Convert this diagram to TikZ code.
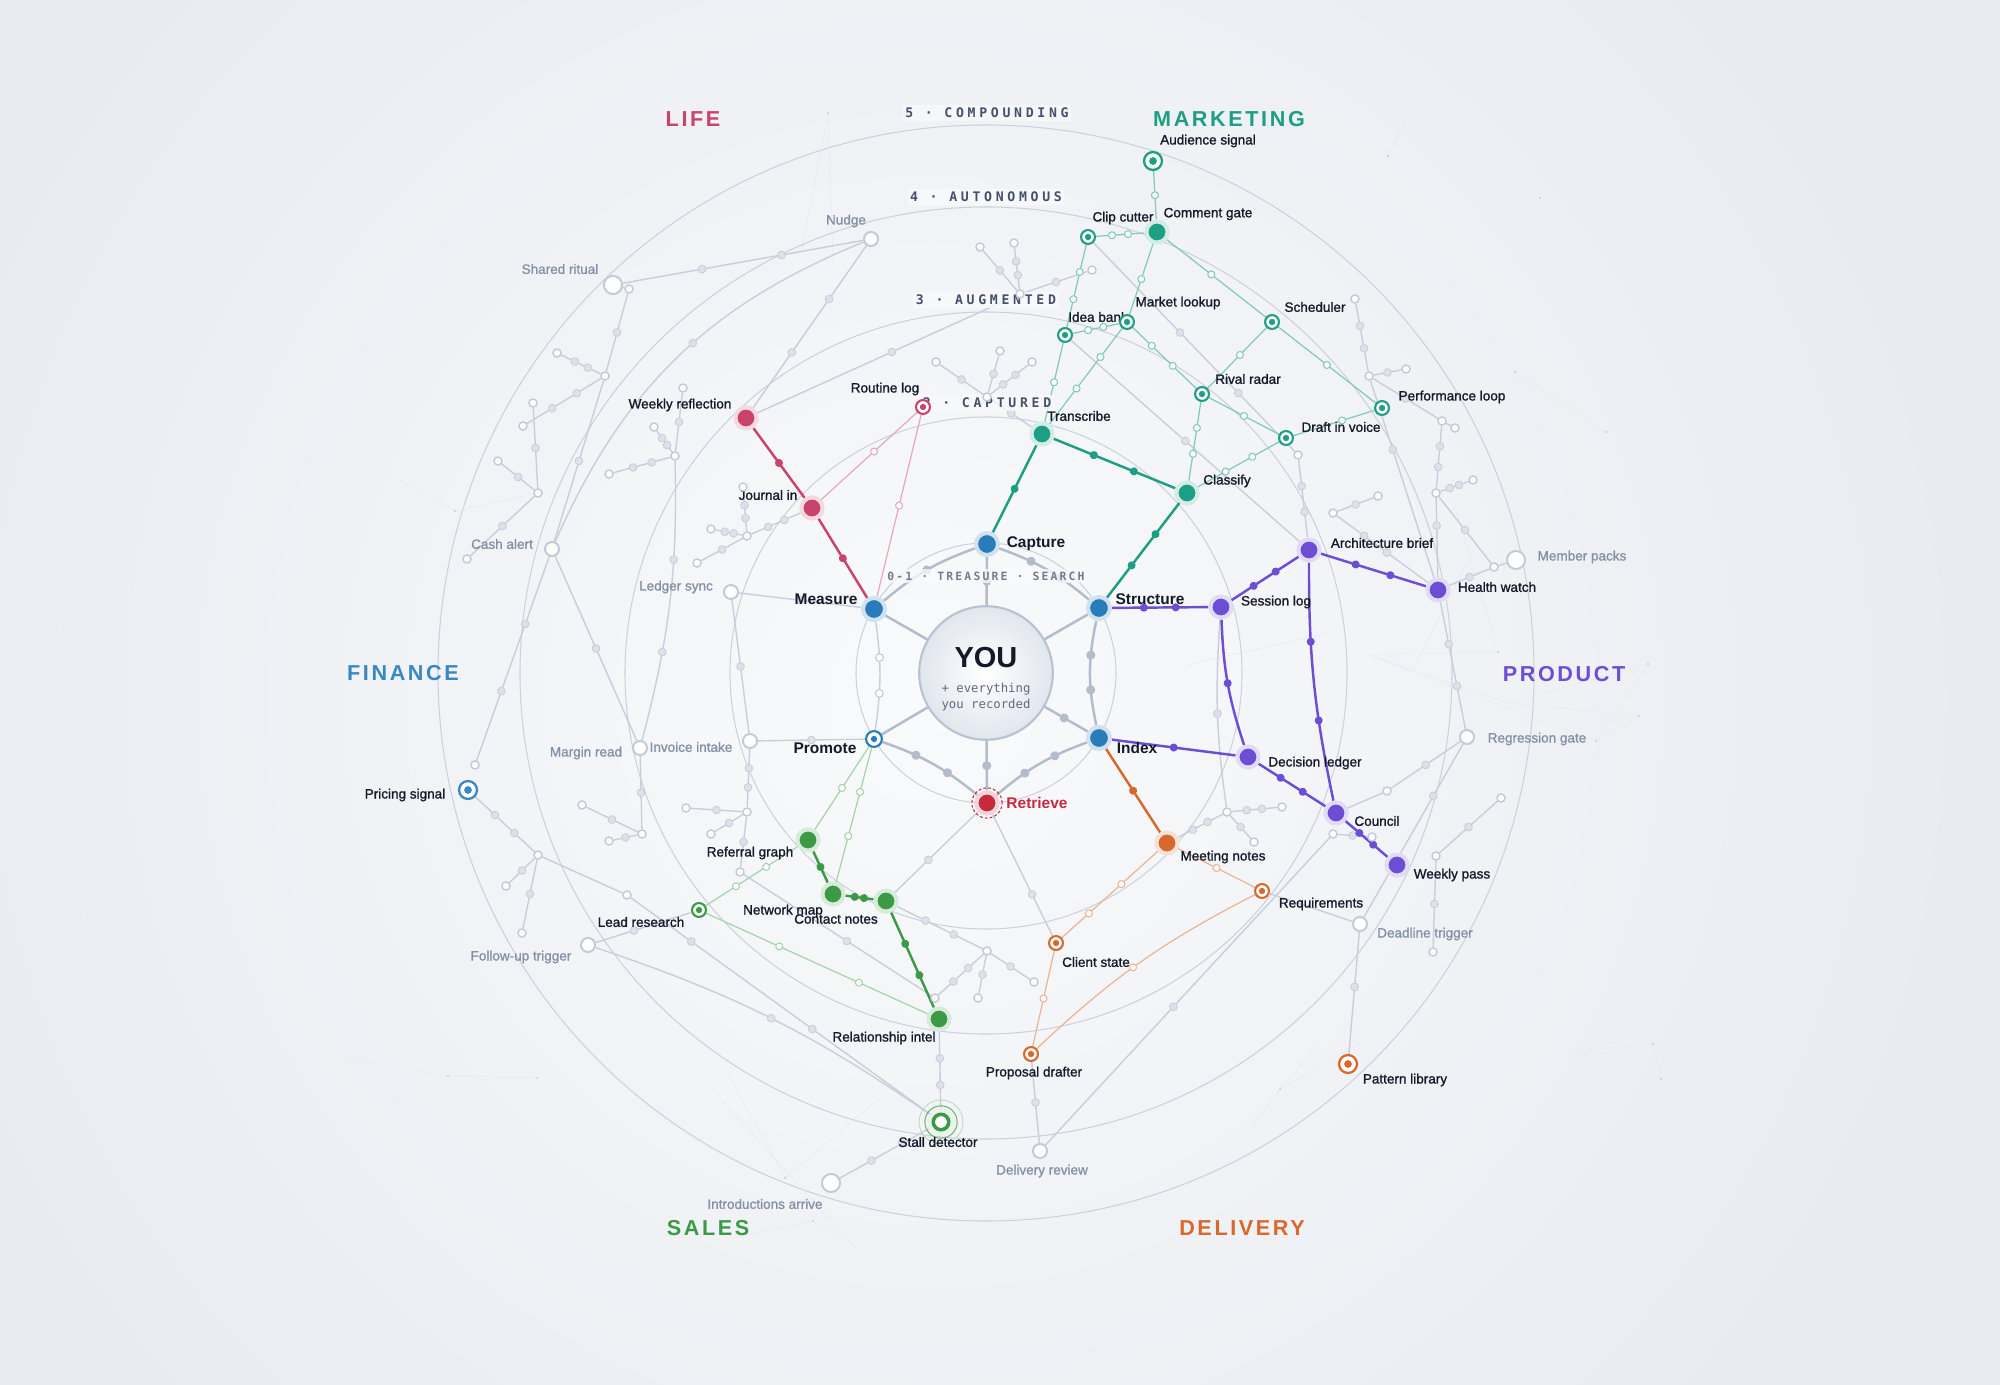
\documentclass[tikz,border=0pt]{standalone}
\usepackage{fontspec}
\setmainfont{Liberation Sans}
\newfontfamily\lblfont{Liberation Sans}[FakeBold=1.2]
\newfontfamily\youmono{DejaVu Sans Mono}
\newfontfamily\ringfont{DejaVu Sans Mono}[LetterSpace=28]
\newfontfamily\treasfont{DejaVu Sans Mono}[LetterSpace=19]
\newfontfamily\catfont{Liberation Sans}[LetterSpace=12]
\usetikzlibrary{decorations.markings}

\definecolor{bgc}{HTML}{E8EBF1}
\definecolor{bgin}{HTML}{F9FAFB}
\definecolor{ink}{HTML}{141A2A}
\definecolor{mute}{HTML}{8591A7}
\definecolor{slate}{HTML}{46506A}
\definecolor{ringc}{HTML}{CBD2DD}
\definecolor{gline}{HTML}{C8CFDA}
\definecolor{gdotc}{HTML}{DDE2EA}
\definecolor{gring}{HTML}{C3CAD6}
\definecolor{hubline}{HTML}{B3BCCA}
\definecolor{youedge}{HTML}{B9C2D0}
\definecolor{youbot}{HTML}{E1E6EE}
\definecolor{hubblue}{HTML}{2A7BBA}
\definecolor{life}{HTML}{C9436A}
\definecolor{mkt}{HTML}{1E9E84}
\definecolor{fin}{HTML}{3B87C3}
\definecolor{prod}{HTML}{6E4DD5}
\definecolor{sales}{HTML}{3C9A47}
\definecolor{deliv}{HTML}{D8692E}
\definecolor{retr}{HTML}{C62A3D}

\pgfdeclarelayer{back}
\pgfdeclarelayer{gedges}
\pgfdeclarelayer{cedges}
\pgfsetlayers{back,gedges,cedges,main}

\tikzset{
    hub/.style={circle, inner sep=0pt, minimum size=12.5pt, line width=2.3pt, fill=hubblue, draw=hubblue!22},
    filled/.style={circle, inner sep=0pt, minimum size=12pt, line width=2.3pt, fill=#1, draw=#1!20},
    target/.style={circle, inner sep=0pt, minimum size=7.9pt, line width=1.2pt, draw=#1, fill=white, path picture={\fill[#1] (path picture bounding box.center) circle (1.8pt);}},
    bigtarget/.style={circle, inner sep=0pt, minimum size=10.2pt, line width=1.3pt, draw=#1, fill=white, path picture={\fill[#1] (path picture bounding box.center) circle (2.2pt);}},
    gnode/.style={circle, inner sep=0pt, minimum size=8pt, line width=1.1pt, draw=gring, fill=white},
    bignode/.style={gnode, minimum size=10.3pt},
    gw/.style={circle, inner sep=0pt, minimum size=4.6pt, line width=0.8pt, draw=gring, fill=white},
    thk/.style={line width=1.4pt},
    thn/.style={line width=0.7pt},
    gedge/.style={draw=gline, line width=0.8pt},
    hedge/.style={draw=hubline, line width=1.4pt},
    faint/.style={draw=gline!45, line width=0.25pt},
    fd/.style={postaction={decorate, decoration={markings, mark=at position #1 with {\fill (0,0) circle (2.3pt);}}}},
    hd/.style={postaction={decorate, decoration={markings, mark=at position #1 with {\filldraw[fill=white, line width=0.6pt] (0,0) circle (2pt);}}}},
    gd/.style={postaction={decorate, decoration={markings, mark=at position #1 with {\filldraw[fill=gdotc, draw=gline, line width=0.5pt] (0,0) circle (2.2pt);}}}},
    hdt/.style={postaction={decorate, decoration={markings, mark=at position #1 with {\fill[hubline] (0,0) circle (2.6pt);}}}},
    ghd/.style={postaction={decorate, decoration={markings, mark=at position #1 with {\filldraw[fill=white, draw=gring, line width=0.6pt] (0,0) circle (2.2pt);}}}},
    lbl/.style={font=\lblfont\fontsize{7.7}{9}\selectfont, text=ink, inner sep=0pt},
    mlbl/.style={lbl, text=mute},
    hlbl/.style={font=\fontsize{8.8}{10}\selectfont\bfseries, text=ink, inner sep=0pt},
    cat/.style={font=\catfont\fontsize{12.3}{14}\selectfont\bfseries, inner sep=0pt},
    ringlbl/.style={font=\ringfont\fontsize{7.5}{9}\selectfont\bfseries, text=slate, inner sep=1.5pt, fill=bgin, fill opacity=0.75, text opacity=1}
}

\begin{document}
\begin{tikzpicture}[x=0.2mm, y=-0.2mm]
    \useasboundingbox (0,0) rectangle (2000,1385);
    \coordinate (ctr) at (986,673);

    % ring titles
    \node (r5) [ringlbl] at (987,113) {5 · COMPOUNDING};
    \node (r4) [ringlbl] at (986,197) {4 · AUTONOMOUS};
    \node (r3) [ringlbl] at (986,300) {3 · AUGMENTED};
    \node (r2) [ringlbl] at (987,403) {2 · CAPTURED};
    \node (r0) [ringlbl, font=\treasfont\fontsize{6.5}{8}\selectfont\bfseries, text=slate!75] at (986,576) {0-1 · TREASURE · SEARCH};

    % areas
    \node (clife) [cat, text=life] at (693,119) {LIFE};
    \node (cmkt) [cat, text=mkt] at (1229,119) {MARKETING};
    \node (cfin) [cat, text=fin] at (403,673) {FINANCE};
    \node (cprod) [cat, text=prod] at (1564,674) {PRODUCT};
    \node (csales) [cat, text=sales] at (708,1228) {SALES};
    \node (cdeliv) [cat, text=deliv] at (1242,1228) {DELIVERY};

    % labels
    \node (twrefl) [lbl] at (680,405) {Weekly reflection};
    \node (troutine) [lbl] at (885,389) {Routine log};
    \node (tjournal) [lbl] at (768,495) {Journal in};
    \node (tmeasure) [hlbl] at (826,599) {Measure};
    \node (tcapture) [hlbl] at (1036,544) {Capture};
    \node (tstructure) [hlbl] at (1150,599) {Structure};
    \node (tindex) [hlbl] at (1137,748) {Index};
    \node (tpromote) [hlbl] at (825,748) {Promote};
    \node (tretrieve) [hlbl, text=retr] at (1037,803) {Retrieve};
    \node (ttranscribe) [lbl] at (1079,416) {Transcribe};
    \node (tclassify) [lbl] at (1227,481) {Classify};
    \node (tclip) [lbl] at (1123,218) {Clip cutter};
    \node (tcomment) [lbl] at (1208,214) {Comment gate};
    \node (taudience) [lbl] at (1208,141) {Audience signal};
    \node (tmarket) [lbl] at (1178,303) {Market lookup};
    \node (tidea) [lbl] at (1098,317) {Idea bank};
    \node (tsched) [lbl] at (1315,307) {Scheduler};
    \node (trival) [lbl] at (1248,379) {Rival radar};
    \node (tdraft) [lbl] at (1341,427) {Draft in voice};
    \node (tperf) [lbl] at (1452,397) {Performance loop};
    \node (tsession) [lbl] at (1276,602) {Session log};
    \node (tarch) [lbl] at (1382,543) {Architecture brief};
    \node (thealth) [lbl] at (1497,587) {Health watch};
    \node (tdecision) [lbl] at (1315,763) {Decision ledger};
    \node (tcouncil) [lbl] at (1377,821) {Council};
    \node (twpass) [lbl] at (1452,875) {Weekly pass};
    \node (tmeeting) [lbl] at (1223,857) {Meeting notes};
    \node (trequire) [lbl] at (1321,904) {Requirements};
    \node (tclient) [lbl] at (1096,962) {Client state};
    \node (tproposal) [lbl] at (1034,1073) {Proposal drafter};
    \node (tpattern) [lbl] at (1405,1080) {Pattern library};
    \node (treferral) [lbl] at (750,853) {Referral graph};
    \node (tnetmap) [lbl] at (783,911) {Network map};
    \node (tcontact) [lbl] at (836,919) {Contact notes};
    \node (trelint) [lbl] at (884,1038) {Relationship intel};
    \node (tlead) [lbl] at (641,922) {Lead research};
    \node (tstall) [lbl] at (938,1142) {Stall detector};
    \node (tpricing) [lbl] at (405,795) {Pricing signal};
    \node (tnudge) [mlbl] at (846,221) {Nudge};
    \node (tshared) [mlbl] at (560,269) {Shared ritual};
    \node (tcash) [mlbl] at (502,544) {Cash alert};
    \node (tledger) [mlbl] at (676,587) {Ledger sync};
    \node (tmargin) [mlbl] at (586,753) {Margin read};
    \node (tinvoice) [mlbl] at (691,747) {Invoice intake};
    \node (tfollowup) [mlbl] at (521,957) {Follow-up trigger};
    \node (tintro) [mlbl] at (765,1204) {Introductions arrive};
    \node (treview) [mlbl] at (1042,1171) {Delivery review};
    \node (tdeadline) [mlbl] at (1425,934) {Deadline trigger};
    \node (tregress) [mlbl] at (1537,739) {Regression gate};
    \node (tmember) [mlbl] at (1582,557) {Member packs};

    % centre
    \node (you) [circle, minimum size=76pt, inner sep=0pt, draw=youedge, line width=1.2pt, inner color=white, outer color=youbot] at (ctr) {};
    \node (youtxt) [font=\fontsize{16.5}{18}\selectfont\bfseries, text=ink] at (986,658) {YOU};
    \node (yousub) [font=\youmono\fontsize{7}{9.1}\selectfont, text=slate!85, align=center] at (986,697) {+ everything\\you recorded};

    % hub
    \node (capture) [hub] at (987,544) {};
    \node (structure) [hub] at (1099,608) {};
    \node (index) [hub] at (1099,738) {};
    \node (measure) [hub] at (874,609) {};
    \node (promote) [target=hubblue, minimum size=9pt] at (874,739) {};
    \node (retrieve) [filled=retr] at (987,803) {};

    % life
    \node (wrefl) [filled=life] at (746,418) {};
    \node (journal) [filled=life] at (812,508) {};
    \node (routine) [target=life] at (923,407) {};

    % marketing
    \node (audience) [bigtarget=mkt] at (1153,161) {};
    \node (comment) [filled=mkt] at (1157,232) {};
    \node (clip) [target=mkt] at (1088,237) {};
    \node (idea) [target=mkt] at (1065,335) {};
    \node (market) [target=mkt] at (1127,322) {};
    \node (sched) [target=mkt] at (1272,322) {};
    \node (rival) [target=mkt] at (1202,394) {};
    \node (draft) [target=mkt] at (1286,438) {};
    \node (perf) [target=mkt] at (1382,408) {};
    \node (transcribe) [filled=mkt] at (1042,434) {};
    \node (classify) [filled=mkt] at (1187,493) {};

    % product
    \node (session) [filled=prod] at (1221,607) {};
    \node (arch) [filled=prod] at (1309,550) {};
    \node (health) [filled=prod] at (1438,590) {};
    \node (decision) [filled=prod] at (1248,757) {};
    \node (council) [filled=prod] at (1336,813) {};
    \node (wpass) [filled=prod] at (1397,865) {};

    % delivery
    \node (meeting) [filled=deliv] at (1167,843) {};
    \node (require) [target=deliv] at (1262,891) {};
    \node (client) [target=deliv] at (1056,943) {};
    \node (proposal) [target=deliv] at (1031,1054) {};
    \node (pattern) [bigtarget=deliv] at (1348,1064) {};

    % sales
    \node (referral) [filled=sales] at (808,840) {};
    \node (netmap) [filled=sales] at (833,894) {};
    \node (contact) [filled=sales] at (886,901) {};
    \node (relint) [filled=sales] at (939,1019) {};
    \node (lead) [target=sales] at (699,910) {};
    \node (stall) [circle, inner sep=0pt, minimum size=8.8pt, line width=2pt, draw=sales, fill=white] at (941,1122) {};

    % finance
    \node (pricing) [bigtarget=fin] at (468,790) {};

    % dormant
    \node (nudge) [gnode] at (871,239) {};
    \node (shared) [bignode] at (613,285) {};
    \node (cash) [gnode] at (552,549) {};
    \node (ledger) [gnode] at (731,592) {};
    \node (margin) [gnode] at (640,748) {};
    \node (invoice) [gnode] at (750,741) {};
    \node (followup) [gnode] at (588,945) {};
    \node (intro) [bignode] at (831,1183) {};
    \node (review) [gnode] at (1040,1151) {};
    \node (deadline) [gnode] at (1360,924) {};
    \node (regress) [gnode] at (1467,737) {};
    \node (member) [bignode] at (1516,560) {};

    % small grey
    \node (w1) [gw] at (629,289) {};
    \node (w2) [gw] at (605,376) {};
    \node (w3) [gw] at (557,353) {};
    \node (w4) [gw] at (523,426) {};
    \node (w5) [gw] at (533,403) {};
    \node (w6) [gw] at (498,461) {};
    \node (w7) [gw] at (538,493) {};
    \node (w8) [gw] at (467,559) {};
    \node (w9) [gw] at (683,388) {};
    \node (w10) [gw] at (675,456) {};
    \node (w11) [gw] at (654,427) {};
    \node (w12) [gw] at (609,474) {};
    \node (w13) [gw] at (747,536) {};
    \node (w14) [gw] at (743,487) {};
    \node (w15) [gw] at (711,529) {};
    \node (w16) [gw] at (697,563) {};
    \node (w17) [gw] at (980,247) {};
    \node (w18) [gw] at (1014,243) {};
    \node (w19) [gw] at (1020,294) {};
    \node (w20) [gw] at (1092,270) {};
    \node (w21) [gw] at (936,362) {};
    \node (w22) [gw] at (1000,351) {};
    \node (w23) [gw] at (987,397) {};
    \node (w24) [gw] at (1032,362) {};
    \node (w26) [gw] at (1355,299) {};
    \node (w27) [gw] at (1369,376) {};
    \node (w28) [gw] at (1406,369) {};
    \node (w29) [gw] at (1442,421) {};
    \node (w30) [gw] at (1455,428) {};
    \node (w33) [gw] at (1436,493) {};
    \node (w34) [gw] at (1494,567) {};
    \node (w35) [gw] at (1473,480) {};
    \node (w36) [gw] at (1333,513) {};
    \node (w37) [gw] at (1378,496) {};
    \node (w39) [gw] at (1298,455) {};
    \node (w40) [gw] at (1387,791) {};
    \node (w42) [gw] at (1436,856) {};
    \node (w43) [gw] at (1501,798) {};
    \node (w44) [gw] at (1433,952) {};
    \node (w46) [gw] at (1333,834) {};
    \node (w47) [gw] at (1227,812) {};
    \node (w48) [gw] at (1282,807) {};
    \node (w49) [gw] at (1254,842) {};
    \node (w51) [gw] at (1372,837) {};
    \node (w53) [gw] at (538,855) {};
    \node (w54) [gw] at (475,765) {};
    \node (w55) [gw] at (506,886) {};
    \node (w56) [gw] at (522,933) {};
    \node (w57) [gw] at (627,895) {};
    \node (w58) [gw] at (582,805) {};
    \node (w59) [gw] at (642,834) {};
    \node (w60) [gw] at (609,841) {};
    \node (w61) [gw] at (935,998) {};
    \node (w62) [gw] at (740,872) {};
    \node (w63) [gw] at (987,951) {};
    \node (w64) [gw] at (978,998) {};
    \node (w65) [gw] at (1034,982) {};
    \node (w66) [gw] at (747,812) {};
    \node (w67) [gw] at (686,808) {};
    \node (w68) [gw] at (711,834) {};

    \begin{pgfonlayer}{back}
        \fill[bgc] (0,0) rectangle (2000,1385);
        \shade[inner color=bgin, outer color=bgc] (930,700) circle [radius=210mm];
        \draw[ringc, line width=0.6pt] (ctr) circle [radius=26mm];
        \draw[ringc, line width=0.6pt] (ctr) circle [radius=51.2mm];
        \draw[ringc, line width=0.6pt] (ctr) circle [radius=72.2mm];
        \draw[ringc, line width=0.6pt] (ctr) circle [radius=93.2mm];
        \draw[ringc, line width=0.6pt] (ctr) circle [radius=109.6mm];
        % faint constellations
        \draw[faint] (803,245) -- (828,113) -- (833,265);
        \draw[faint] (1418,95) -- (1388,156);
        \draw[faint] (1515,372) -- (1606,432);
        \draw[faint] (1369,655) -- (1508,703) -- (1648,664) -- (1596,741) -- cycle;
        \draw[faint] (1508,703) -- (1639,716) -- (1596,741);
        \draw[faint] (1456,510) -- (1498,652) -- (1369,655);
        \draw[faint] (1473,550) -- (1413,669);
        \draw[faint] (340,1058) -- (448,1076) -- (537,1078);
        \draw[faint] (712,1089) -- (857,1250);
        \draw[faint] (727,1073) -- (785,1178) -- (886,1093);
        \draw[faint] (733,1238) -- (813,1221) -- (857,1248);
        \draw[faint] (1318,1045) -- (1280,1089) -- (1252,1128);
        \draw[faint] (1280,1089) -- (1365,1040);
        \draw[faint] (1573,1051) -- (1653,1044) -- (1661,1079) -- cycle;
        \draw[faint] (400,480) -- (455,511) -- (538,493);
        \draw[faint] (1187,665) -- (1333,632);
        \fill[gline] (828,113) circle (0.7pt) (803,245) circle (0.7pt) (1388,156) circle (0.7pt)
            (1540,198) circle (0.7pt) (1515,372) circle (0.7pt) (1606,432) circle (0.7pt)
            (1648,664) circle (0.7pt) (1639,716) circle (0.7pt) (1596,741) circle (0.7pt)
            (1498,652) circle (0.7pt) (448,1076) circle (0.7pt) (537,1078) circle (0.7pt)
            (785,1178) circle (0.7pt) (813,1221) circle (0.7pt) (1280,1089) circle (0.7pt)
            (1653,1044) circle (0.7pt) (1661,1079) circle (0.7pt) (455,511) circle (0.7pt);
    \end{pgfonlayer}

    \begin{pgfonlayer}{gedges}
        % hub ring
        \draw[hedge] (you) -- (measure);
        \draw[hedge] (you) -- (structure);
        \draw[hedge] (you) -- (promote);
        \draw[hedge, hdt=.5] (you) -- (capture);
        \draw[hedge, hdt=.5] (you) -- (retrieve);
        \draw[hedge, hdt=.45] (you) -- (index);
        \draw[hedge, hdt=.5] (measure) to[bend left=10] (capture);
        \draw[hedge, hdt=.33, hdt=.66] (capture) to[bend left=10] (structure);
        \draw[hedge, hdt=.33, hdt=.66] (structure) to[bend right=12] (index);
        \draw[hedge, hdt=.33, hdt=.66] (promote) to[bend left=10] (retrieve);
        \draw[hedge, hdt=.33, hdt=.66] (index) to[bend right=10] (retrieve);
        \draw[gedge, ghd=.33, ghd=.66] (measure) to[bend left=8] (promote);
        % dormant web
        \draw[gedge] (shared) -- (w1);
        \draw[gedge, gd=.5] (w1) -- (w2);
        \draw[gedge, gd=.33, gd=.66] (w2) -- (w3);
        \draw[gedge, gd=.33, gd=.66] (w2) -- (w4);
        \draw[gedge, gd=.5] (w2) -- (cash);
        \draw[gedge, gd=.5] (w5) -- (w7);
        \draw[gedge, gd=.5] (w6) -- (w7);
        \draw[gedge, gd=.5] (w7) -- (w8);
        \draw[gedge, gd=.33, gd=.66] (shared) -- (nudge);
        \draw[gedge, gd=.33, gd=.66] (nudge) -- (wrefl);
        \draw[gedge, gd=.45] (nudge) to[bend right=22] (cash);
        \draw[gedge, gd=.5] (w9) -- (w10);
        \draw[gedge, gd=.33, gd=.66] (w10) -- (w11);
        \draw[gedge, gd=.33, gd=.66] (w10) -- (w12);
        \draw[gedge, gd=.35, gd=.68] (w10) to[bend left=8] (margin);
        \draw[gedge, gd=.33, gd=.66] (journal) -- (w13);
        \draw[gedge, gd=.33, gd=.66] (w13) -- (w14);
        \draw[gedge, gd=.33, gd=.66] (w13) -- (w15);
        \draw[gedge, gd=.5] (w13) -- (w16);
        \draw[gedge, gd=.5] (w17) -- (w19);
        \draw[gedge, gd=.33, gd=.66] (w18) -- (w19);
        \draw[gedge, gd=.5] (w19) -- (w20);
        \draw[gedge, gd=.52] (wrefl) -- (w19);
        \draw[gedge, gd=.5] (w21) -- (w23);
        \draw[gedge, gd=.5] (w22) -- (w23);
        \draw[gedge, gd=.33, gd=.66] (w23) -- (w24);
        \draw[gedge, gd=.5] (w23) -- (transcribe);
        \draw[gedge, gd=.43, gd=.72] (clip) -- (w39);
        \draw[gedge, gd=.5] (idea) -- (arch);
        \draw[gedge, gd=.33, gd=.66] (w26) -- (w27);
        \draw[gedge, gd=.5] (w27) -- (w28);
        \draw[gedge, gd=.5] (w27) -- (w29);
        \draw[gedge] (w29) -- (w30);
        \draw[gedge, gd=.33, gd=.66] (w29) -- (w33);
        \draw[gedge, gd=.35] (w33) -- (health);
        \draw[gedge, gd=.5] (w33) -- (w34);
        \draw[gedge, gd=.33, gd=.66] (w33) -- (w35);
        \draw[gedge] (member) -- (w34);
        \draw[gedge, gd=.5] (w34) -- (health);
        \draw[gedge, gd=.35] (w27) -- (health);
        \draw[gedge, gd=.33, gd=.66] (arch) -- (w39);
        \draw[gedge, gd=.5] (w36) -- (w37);
        \draw[gedge, gd=.3, gd=.55] (w36) -- (health);
        \draw[gedge, gd=.33, gd=.66] (health) -- (regress);
        \draw[gedge, gd=.5] (regress) -- (w40);
        \draw[gedge] (w40) -- (council);
        \draw[gedge, gd=.3, gd=.72] (regress) -- (deadline);
        \draw[gedge, gd=.5] (w43) -- (w42);
        \draw[gedge, gd=.5] (w42) -- (w44);
        \draw[gedge, gd=.45] (deadline) -- (pattern);
        \draw[gedge] (require) -- (deadline);
        \draw[gedge, gd=.5] (session) to[bend right=6] (w47);
        \draw[gedge, gd=.33, gd=.66] (meeting) -- (w47);
        \draw[gedge, gd=.33, gd=.66] (w47) -- (w48);
        \draw[gedge, gd=.5] (w47) -- (w49);
        \draw[gedge, gd=.45] (review) -- (w46);
        \draw[gedge, gd=.5] (w46) -- (w51);
        \draw[gedge, gd=.5] (proposal) -- (review);
        \draw[gedge, gd=.33, gd=.66] (cash) -- (w54);
        \draw[gedge, gd=.5] (cash) -- (margin);
        \draw[gedge, gd=.33, gd=.66] (pricing) -- (w53);
        \draw[gedge, gd=.5] (w53) -- (w55);
        \draw[gedge, gd=.5] (w53) -- (w56);
        \draw[gedge] (w53) -- (w57);
        \draw[gedge, gd=.2, gd=.6] (w57) -- (stall);
        \draw[gedge, gd=.4] (followup) -- (lead);
        \draw[gedge, gd=.5] (followup) to[bend left=8] (stall);
        \draw[gedge, gd=.5] (w58) -- (w59);
        \draw[gedge, gd=.5] (w59) -- (w60);
        \draw[gedge, gd=.5] (margin) -- (w59);
        \draw[gedge, gd=.5] (ledger) -- (invoice);
        \draw[gedge, gd=.33, gd=.66] (invoice) -- (w66);
        \draw[gedge, gd=.5] (w66) -- (w62);
        \draw[gedge, gd=.5] (w66) -- (w67);
        \draw[gedge, gd=.5] (w66) -- (w68);
        \draw[gedge, gd=.55] (w62) -- (w61);
        \draw[gedge, gd=.33, gd=.66] (w61) -- (w63);
        \draw[gedge, gd=.33, gd=.66] (contact) -- (w63);
        \draw[gedge, gd=.5] (w63) -- (w64);
        \draw[gedge, gd=.5] (w63) -- (w65);
        \draw[gedge, gd=.33, gd=.66] (relint) -- (stall);
        \draw[gedge, gd=.33, gd=.66] (stall) -- (intro);
        \draw[gedge, gd=.5] (measure) -- (ledger);
        \draw[gedge, gd=.5] (promote) -- (invoice);
        \draw[gedge, gd=.6] (retrieve) -- (contact);
        \draw[gedge, gd=.66] (retrieve) -- (client);
    \end{pgfonlayer}

    \begin{pgfonlayer}{cedges}
        % life
        \draw[thn, life!45, hd=.45] (routine) -- (journal);
        \draw[thn, life!45, hd=.5] (routine) -- (measure);
        \draw[thk, life, fd=.5] (wrefl) -- (journal);
        \draw[thk, life, fd=.5] (journal) -- (measure);
        % marketing
        \draw[thn, mkt!55, hd=.5] (audience) -- (comment);
        \draw[thn, mkt!55, hd=.33, hd=.66] (clip) -- (comment);
        \draw[thn, mkt!55, hd=.33, hd=.66] (clip) -- (idea);
        \draw[thn, mkt!55, hd=.5] (idea) -- (transcribe);
        \draw[thn, mkt!55, hd=.33, hd=.66] (idea) -- (market);
        \draw[thn, mkt!55, hd=.5] (comment) -- (market);
        \draw[thn, mkt!55, hd=.3, hd=.63] (market) -- (transcribe);
        \draw[thn, mkt!55, hd=.3, hd=.63] (market) -- (rival);
        \draw[thn, mkt!55, hd=.45] (comment) -- (sched);
        \draw[thn, mkt!55, hd=.45] (sched) -- (rival);
        \draw[thn, mkt!55, hd=.33, hd=.66] (rival) -- (classify);
        \draw[thn, mkt!55, hd=.5] (rival) -- (draft);
        \draw[thn, mkt!55, hd=.33, hd=.66] (draft) -- (classify);
        \draw[thn, mkt!55, hd=.5] (sched) -- (perf);
        \draw[thn, mkt!55, hd=.6] (draft) -- (perf);
        \draw[thk, mkt, fd=.5] (capture) -- (transcribe);
        \draw[thk, mkt, fd=.33, fd=.66] (transcribe) -- (classify);
        \draw[thk, mkt, fd=.33, fd=.66] (classify) -- (structure);
        % product
        \draw[thk, prod, fd=.33, fd=.66] (structure) -- (session);
        \draw[thk, prod, fd=.33, fd=.66] (session) -- (arch);
        \draw[thk, prod, fd=.33, fd=.66] (arch) -- (health);
        \draw[thk, prod, fd=.5] (session) to[bend right=8] (decision);
        \draw[thk, prod, fd=.5] (index) -- (decision);
        \draw[thk, prod, fd=.33, fd=.66] (arch) to[bend right=6] (council);
        \draw[thk, prod, fd=.33, fd=.66] (decision) -- (council);
        \draw[thk, prod, fd=.33, fd=.66] (council) -- (wpass);
        % delivery
        \draw[thn, deliv!50, hd=.38, hd=.72] (meeting) -- (client);
        \draw[thn, deliv!50, hd=.5] (meeting) -- (require);
        \draw[thn, deliv!50, hd=.5] (client) -- (proposal);
        \draw[thn, deliv!50, hd=.53] (require) to[bend right=8] (proposal);
        \draw[thk, deliv, fd=.5] (index) -- (meeting);
        % sales
        \draw[thn, sales!45, hd=.5] (promote) -- (referral);
        \draw[thn, sales!45, hd=.33, hd=.66] (promote) -- (netmap);
        \draw[thn, sales!45, hd=.33, hd=.66] (lead) -- (referral);
        \draw[thn, sales!45, hd=.33, hd=.69] (lead) -- (relint);
        \draw[thk, sales, fd=.5] (referral) -- (netmap);
        \draw[thk, sales, fd=.33, fd=.66] (netmap) -- (contact);
        \draw[thk, sales, fd=.33, fd=.66] (contact) -- (relint);
        % rings round stall detector and retrieve
        \fill[sales!12] (stall.center) circle (8pt);
        \draw[sales!75, line width=0.6pt] (stall.center) circle (9.2pt);
        \draw[sales!35, line width=0.5pt] (stall.center) circle (12.5pt);
        \draw[retr, line width=0.6pt, dash pattern=on 1.6pt off 1.2pt] (retrieve.center) circle (8.6pt);
    \end{pgfonlayer}

\end{tikzpicture}
\end{document}
